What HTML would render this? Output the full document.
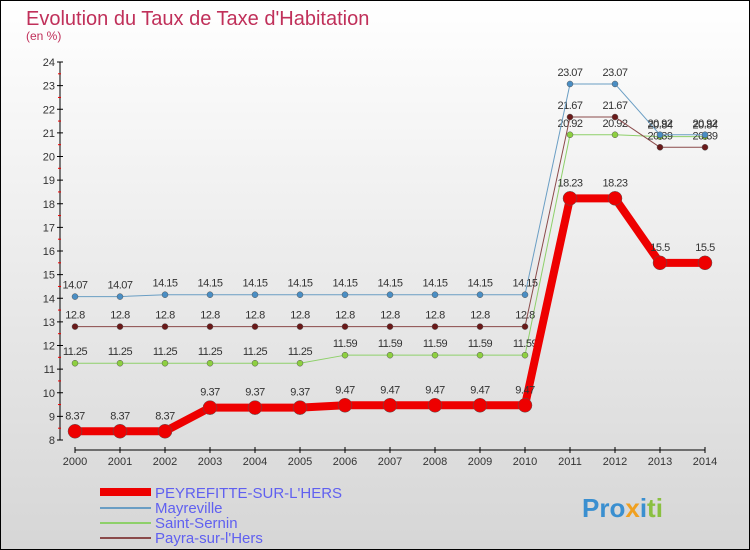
<!DOCTYPE html>
<html><head><meta charset="utf-8"><style>
body{margin:0}
#c{width:750px;height:550px;position:relative;overflow:hidden;box-sizing:border-box;border:1px solid #000;background:linear-gradient(#fff,#d6d6d6);font-family:"Liberation Sans",sans-serif}
</style></head><body>
<div id="c">
<svg id="s" width="750" height="550" style="position:absolute;left:-1px;top:-1px">
<text x="26" y="25" font-size="20" fill="#c0305a">Evolution du Taux de Taxe d'Habitation</text>
<text x="26" y="40" font-size="12" fill="#c0305a">(en %)</text>
<g id="ax"></g><g id="ser"></g>
<g font-size="15" fill="#6060f0">
<line x1="100" y1="492" x2="151" y2="492" stroke="#e00" stroke-width="8"/>
<text x="155" y="498">PEYREFITTE-SUR-L'HERS</text>
<line x1="100" y1="508" x2="151" y2="508" stroke="#6a9ec4" stroke-width="2"/>
<text x="155" y="513">Mayreville</text>
<line x1="100" y1="523" x2="151" y2="523" stroke="#8ed06a" stroke-width="2"/>
<text x="155" y="528">Saint-Sernin</text>
<line x1="100" y1="538" x2="151" y2="538" stroke="#8a4a4a" stroke-width="2"/>
<text x="155" y="543">Payra-sur-l'Hers</text>
</g>
<text x="582" y="517" font-size="26" font-weight="bold"><tspan fill="#3a8fd0">Pro</tspan><tspan fill="#f0a020">x</tspan><tspan fill="#3a8fd0">i</tspan><tspan fill="#8ac040">ti</tspan></text>
</svg>
</div>
<script>
const years=[2000,2001,2002,2003,2004,2005,2006,2007,2008,2009,2010,2011,2012,2013,2014];
const peyrefitte=[8.37,8.37,8.37,9.37,9.37,9.37,9.47,9.47,9.47,9.47,9.47,18.23,18.23,15.5,15.5];
const mayreville=[14.07,14.07,14.15,14.15,14.15,14.15,14.15,14.15,14.15,14.15,14.15,23.07,23.07,20.92,20.92];
const saintSernin=[11.25,11.25,11.25,11.25,11.25,11.25,11.59,11.59,11.59,11.59,11.59,20.92,20.92,20.84,20.84];
const payra=[12.8,12.8,12.8,12.8,12.8,12.8,12.8,12.8,12.8,12.8,12.8,21.67,21.67,20.39,20.39];
const yTicks=[8,9,10,11,12,13,14,15,16,17,18,19,20,21,22,23,24];
const NS="http://www.w3.org/2000/svg";
const X=i=>75+i*45, Y=v=>440-(v-8)*(378/16);
function mk(t,a,p){const e=document.createElementNS(NS,t);for(const k in a)e.setAttribute(k,a[k]);p.appendChild(e);return e;}
const ax=document.getElementById('ax');
let l=mk('line',{x1:60,y1:Y(24),x2:60,y2:Y(8),stroke:'#000'},ax);


l=mk('line',{x1:75,y1:450,x2:705,y2:450,stroke:'#000'},ax);


yTicks.forEach(v=>{
 mk('line',{x1:57,y1:Y(v),x2:63,y2:Y(v),stroke:'#000'},ax);
 if(v<24)mk('line',{x1:58,y1:Y(v+0.5),x2:61,y2:Y(v+0.5),stroke:'#e00'},ax);
 const t=mk('text',{x:55,y:Y(v)+4,'text-anchor':'end','font-size':11,fill:'#333'},ax);t.textContent=v;
 
 
});
years.forEach((y,i)=>{
 mk('line',{x1:X(i),y1:447,x2:X(i),y2:453,stroke:'#000'},ax);
 const t=mk('text',{x:X(i),y:465,'text-anchor':'middle','font-size':11,fill:'#333'},ax);t.textContent=y;
 
 
});
const ser=document.getElementById('ser');
function series(d,name,col,w,r,dot,lblOff){
 const g=mk('g',{},ser);
 
 
 const p=mk('polyline',{points:d.map((v,i)=>X(i)+','+Y(v)).join(' '),fill:'none',stroke:col,'stroke-width':w,'stroke-linejoin':'round'},g);
 
 
 d.forEach((v,i)=>{
  const c=mk('circle',{cx:X(i),cy:Y(v),r:r,fill:dot,stroke:'#555','stroke-width':0.5},g);
  
  
  const t=mk('text',{x:X(i),y:Y(v)-lblOff,'text-anchor':'middle','font-size':11,fill:'#333','letter-spacing':'-0.5'},g);
  t.textContent=v;
  
  
 });
}
series(saintSernin,'saint-sernin','#8ed06a',1,3,'#8ed040',8);
series(payra,'payra','#8a4a4a',1,3,'#6a1a1a',8);
series(mayreville,'mayreville','#6a9ec4',1,3,'#4a8ec4',8);
series(peyrefitte,'peyrefitte','#ee0000',8,7,'#ee0000',12);
</script>
</body></html>
